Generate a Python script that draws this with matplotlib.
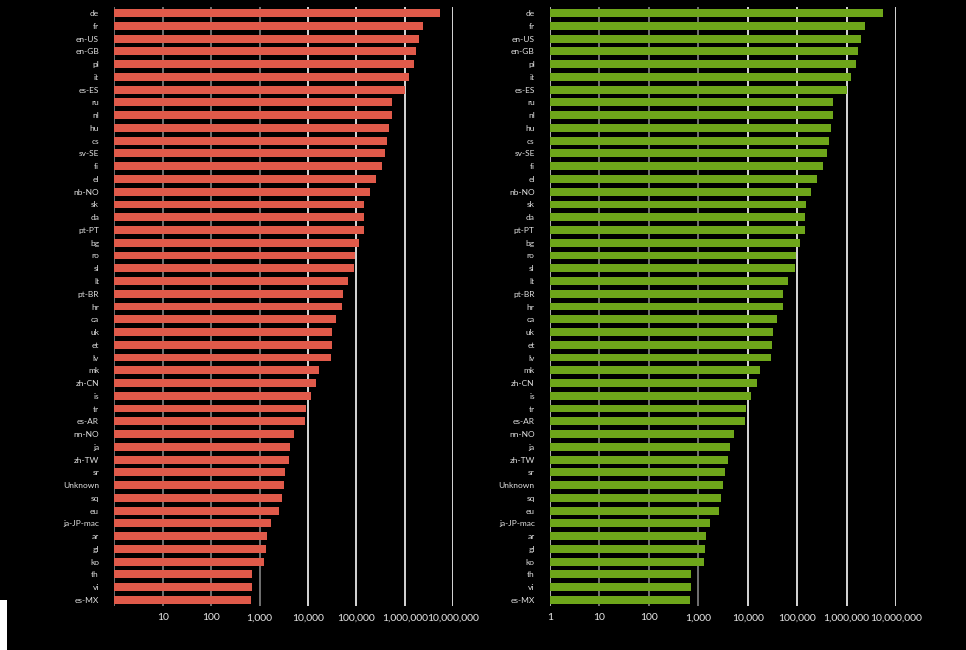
import matplotlib
matplotlib.use("Agg")
import matplotlib.pyplot as plt
import numpy as np
from matplotlib.ticker import FixedLocator, FixedFormatter

plt.rcParams['font.family'] = ['Lato', 'DejaVu Sans']

locales = ['de', 'fr', 'en-US', 'en-GB', 'pl', 'it', 'es-ES', 'ru', 'nl', 'hu',
           'cs', 'sv-SE', 'fi', 'el', 'nb-NO', 'sk', 'da', 'pt-PT', 'bg', 'ro',
           'sl', 'lt', 'pt-BR', 'hr', 'ca', 'uk', 'et', 'lv', 'mk', 'zh-CN',
           'is', 'tr', 'es-AR', 'nn-NO', 'ja', 'zh-TW', 'sr', 'Unknown', 'sq', 'eu',
           'ja-JP-mac', 'ar', 'gl', 'ko', 'th', 'vi', 'es-MX']

left_counts = [5370000, 2344000, 1950000, 1698000, 1549000, 1202000, 1010000, 537000, 535000, 468000,
               427000, 389000, 331000, 251000, 190500, 141000, 140000, 142000, 112000, 93300,
               89100, 66100, 52500, 50100, 37200, 30900, 30800, 29500, 16600, 14500,
               11500, 8900, 8500, 5130, 4170, 3980, 3310, 3160, 2880, 2510,
               1700, 1410, 1350, 1230, 690, 690, 660]

right_counts = [5370000, 2344000, 1950000, 1698000, 1549000, 1230000, 1010000, 525000, 524000, 479000,
                437000, 398000, 331000, 251000, 190500, 151000, 144500, 144000, 112000, 93300,
                89100, 64600, 51300, 51000, 38900, 32400, 30900, 29500, 17400, 15100,
                11500, 9100, 8700, 5250, 4370, 3980, 3470, 3160, 2880, 2570,
                1700, 1410, 1350, 1290, 708, 708, 676]

tick_vals = [1, 10, 100, 1000, 10000, 100000, 1000000, 10000000]
tick_text = ['1', '10', '100', '1,000', '10,000', '100,000', '1,000,000', '10,000,000']

fig = plt.figure(figsize=(9.66, 6.5), dpi=100, facecolor='black')
# white strip on the left edge
fig.add_artist(plt.Rectangle((0, 0), 7 / 966, 50 / 650, transform=fig.transFigure,
                             facecolor='white', edgecolor='none'))

ax1 = fig.add_axes([114.3 / 966, 1 - 606.25 / 650, 339 / 966, 599.5 / 650])
ax2 = fig.add_axes([550 / 966, 1 - 606.25 / 650, 346 / 966, 599.5 / 650])


def draw(ax, counts, color, show_one):
    ax.set_facecolor('black')
    y = np.arange(len(locales))
    for v in tick_vals:
        c = '#7a7a7a' if v in (10, 100, 1000) else '#e8e8e8'
        if v == 1:
            c = '#bdbdbd' if show_one else '#7a7a7a'
        ax.axvline(v, color=c, lw=1.3, zorder=0)
    ax.barh(y, counts, left=1, height=0.62, color=color, zorder=2)
    ax.set_xscale('log')
    ax.set_xlim(1, 1e7)
    ax.set_ylim(len(locales) - 0.5, -0.5)
    ax.set_yticks(y)
    ax.set_yticklabels(locales)
    if show_one:
        ax.xaxis.set_major_locator(FixedLocator(tick_vals))
        ax.xaxis.set_major_formatter(FixedFormatter(tick_text))
    else:
        ax.xaxis.set_major_locator(FixedLocator(tick_vals[1:]))
        ax.xaxis.set_major_formatter(FixedFormatter(tick_text[1:]))
    ax.xaxis.set_minor_locator(FixedLocator([]))
    ax.tick_params(axis='y', length=0, pad=11, labelsize=6, labelcolor='#e0e0e0')
    ax.tick_params(axis='x', length=0, pad=5, labelsize=7.5, labelcolor='#e8e8e8')
    for s in ax.spines.values():
        s.set_visible(False)


draw(ax1, left_counts, '#e05a4a', False)
draw(ax2, right_counts, '#6ea61a', True)

fig.savefig('out.png', dpi=100, facecolor='black')
